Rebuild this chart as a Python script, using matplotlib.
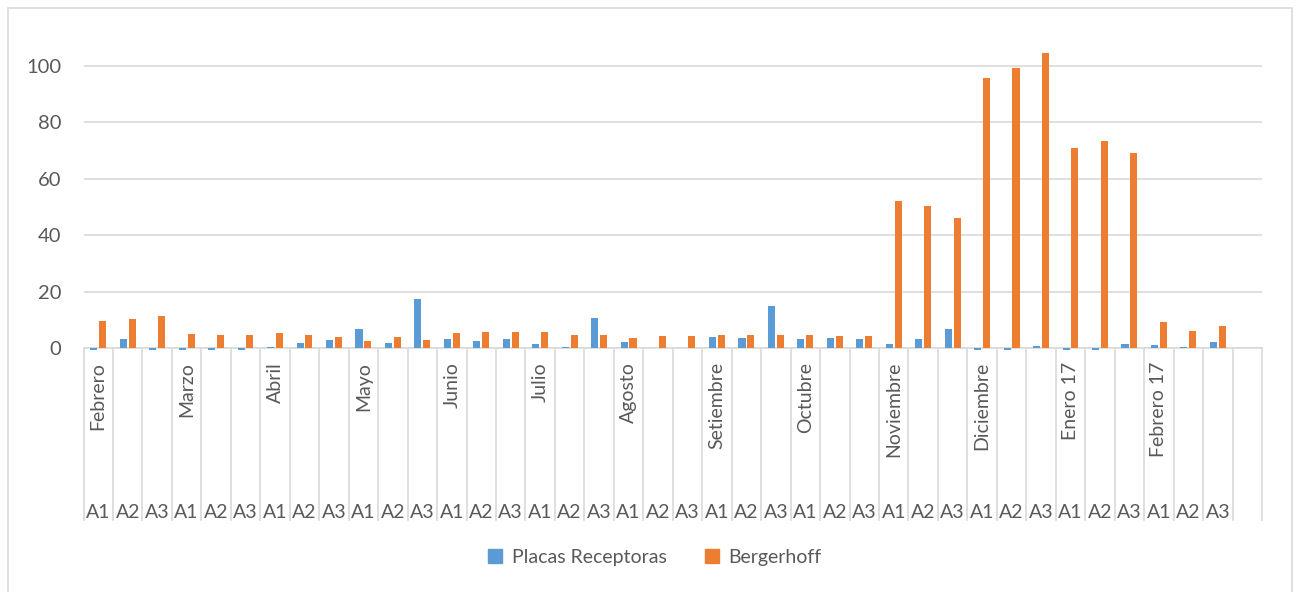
import matplotlib
matplotlib.use("Agg")
import matplotlib.pyplot as plt
import matplotlib.patches as mpatches
import numpy as np

# ── Data ──────────────────────────────────────────────────────────────────────
months = ["Febrero", "Marzo", "Abril", "Mayo", "Junio", "Julio", "Agosto",
          "Setiembre", "Octubre", "Noviembre", "Diciembre", "Enero 17",
          "Febrero 17"]
sub_labels = ["A1", "A2", "A3"]

placas = [-0.8, 3.2, -0.8, -0.8, -0.8, -0.8, 0.5, 1.9, 2.7, 6.7,
          1.9, 17.3, 3.2, 2.5, 3.2, 1.3, 0.3, 10.6, 2.0, 0.0,
          0.0, 3.9, 3.4, 14.9, 3.2, 3.5, 3.2, 1.4, 3.2, 6.7,
          -0.8, -0.8, 0.7, -0.8, -0.8, 1.3, 1.1, 0.3, 2.1]
bergerhoff = [9.6, 10.3, 11.3, 5.0, 4.7, 4.6, 5.3, 4.5, 3.9, 2.5,
              3.8, 2.9, 5.3, 5.6, 5.6, 5.6, 4.6, 4.7, 3.4, 4.1,
              4.1, 4.7, 4.7, 4.7, 4.6, 4.4, 4.4, 52.3, 50.4, 46.2,
              95.7, 99.3, 104.7, 70.9, 73.4, 69.0, 9.1, 6.0, 7.7]

BLUE = "#5B9BD5"
ORANGE = "#ED7D31"
GRID = "#D9D9D9"
TEXT = "#595959"

plt.rcParams["font.family"] = ["Lato", "DejaVu Sans"]

W, H = 1298, 592
fig = plt.figure(figsize=(W / 100, H / 100), dpi=100)

# plot area in pixels
left_px, right_px, top_px, base_px = 83.5, 1262, 40, 348
ax = fig.add_axes([left_px / W, (H - base_px) / H,
                   (right_px - left_px) / W, (base_px - top_px) / H])
ax_h = base_px - top_px


def fy(py):
    """pixel row -> axes fraction (for the category label area)"""
    return (base_px - py) / ax_h


n = len(placas)
n_slots = n + 1           # one empty slot at the end
x = np.arange(n)
bw = 0.24
ax.bar(x - 0.15, placas, bw, color=BLUE, clip_on=False, zorder=3,
       label="Placas Receptoras")
ax.bar(x + 0.15, bergerhoff, bw, color=ORANGE, clip_on=False, zorder=3,
       label="Bergerhoff")

ax.set_xlim(-0.5, n_slots - 0.5)
ax.set_ylim(0, ax_h / 2.82)
ax.set_yticks(np.arange(0, 101, 20))
ax.tick_params(axis="y", length=0, pad=16, labelsize=14.5, labelcolor=TEXT)
ax.set_xticks([])
ax.grid(axis="y", color=GRID, lw=1.2, zorder=0)
for s in ["left", "right", "top"]:
    ax.spines[s].set_visible(False)
ax.spines["bottom"].set_color(GRID)
ax.spines["bottom"].set_linewidth(1.2)

# multi-level category labels
tr = ax.get_xaxis_transform()
for k in range(n_slots + 1):
    ax.plot([k - 0.5, k - 0.5], [0, fy(520)], transform=tr, color=GRID,
            lw=1.2, clip_on=False)
for i in range(n):
    ax.text(i, fy(512), sub_labels[i % 3], transform=tr, ha="center",
            va="center", fontsize=14, color=TEXT)
for j, m in enumerate(months):
    ax.text(3 * j, fy(362), m, transform=tr, rotation=90, ha="center",
            va="top", fontsize=14, color=TEXT)

# legend
handles = [mpatches.Patch(color=BLUE, label="Placas Receptoras"),
           mpatches.Patch(color=ORANGE, label="Bergerhoff")]
fig.legend(handles=handles, loc="center", bbox_to_anchor=(655 / W, 1 - 557 / H),
           ncol=2, frameon=False, fontsize=14, handlelength=0.7,
           handleheight=0.7, handletextpad=0.5, columnspacing=2.0,
           labelcolor=TEXT)

# chart border
fig.patches.append(mpatches.Rectangle((8 / W, -0.01), (1292 - 8) / W, 1 - 8 / H + 0.01,
                                      transform=fig.transFigure, fill=False,
                                      edgecolor=GRID, lw=1.2))

fig.savefig("out.png", dpi=100)
